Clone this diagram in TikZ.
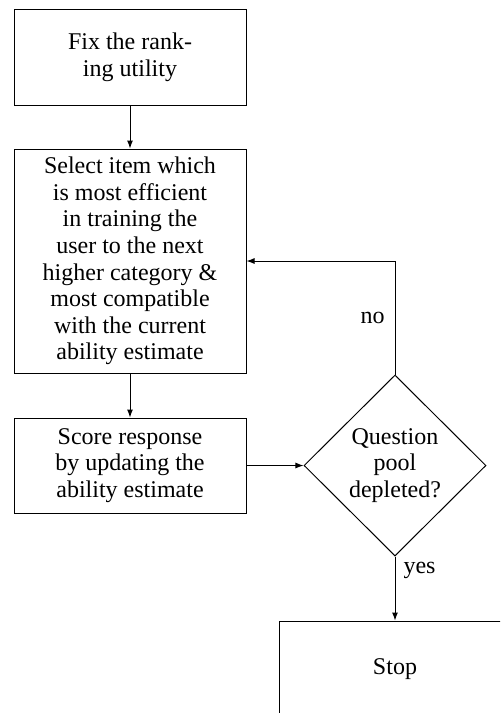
\documentclass[tikz,border=0pt]{standalone}
\usepackage{fontspec}
\setmainfont{Liberation Serif}
\usetikzlibrary{shapes.geometric,arrows.meta}
\begin{document}
\begin{tikzpicture}[x=0.5pt,y=-0.5pt,
  txt/.style={font=\fontsize{12}{13.3}\selectfont},
  box/.style={draw, line width=0.5pt, minimum width=116pt, align=center, inner sep=0pt, txt},
  dec/.style={draw, line width=0.5pt, diamond, minimum width=91pt, minimum height=90.5pt, inner sep=0pt, align=center, txt},
  arr/.style={line width=0.5pt, -{Latex[length=4pt,width=3pt]}},
  lbl/.style={txt, inner sep=0pt}]
\clip (0,0) rectangle (500,713);
\node[box, minimum height=48pt] (fix) at (130,57) {Fix the rank-\\ing utility};
\node[box, minimum height=112pt] (sel) at (130,261) {Select item which\\is most efficient\\in training the\\user to the next\\higher category \&\\most compatible\\with the current\\ability estimate};
\node[box, minimum height=47.5pt] (score) at (130,465.5) {Score response\\by updating the\\ability estimate};
\node[dec] (dec) at (395,465.5) {Question\\pool\\depleted?};
\node[box, minimum height=48pt] (stop) at (395,669) {Stop};
\draw[arr] (fix) -- (sel);
\draw[arr] (sel) -- (score);
\draw[arr] (score) -- (dec);
\draw[arr] (dec.north) |- node[lbl, pos=0.25, anchor=east, xshift=-5pt] {no} (sel.east);
\draw[arr] (dec.south) -- node[lbl, pos=0.22, anchor=west, xshift=4pt] {yes} (stop.north);
\end{tikzpicture}
\end{document}
